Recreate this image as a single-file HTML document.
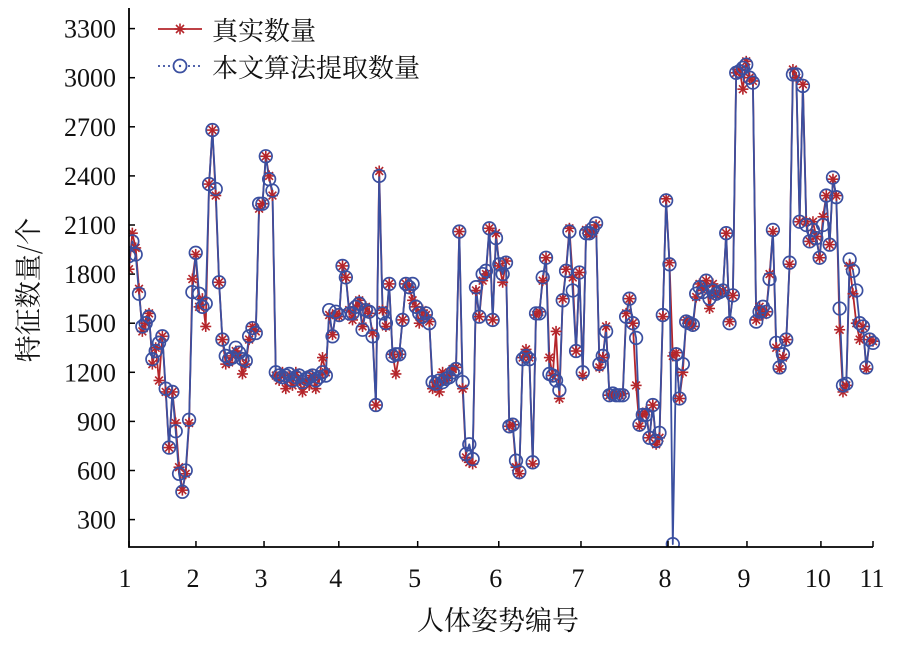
<!DOCTYPE html>
<html><head><meta charset="utf-8"><style>
body{margin:0;background:#fff;}
svg text{font-family:"Liberation Serif","Noto Serif CJK SC",serif;}
</style></head><body>
<svg id="chart" width="901" height="642" viewBox="0 0 901 642" xmlns="http://www.w3.org/2000/svg">
<g id="plot"></g>
<g id="axes"></g>
<g>
  <g>
    <line x1="158" y1="29" x2="202" y2="29" stroke="#b5262b" stroke-width="1.8"/>
    <g stroke="#b5262b" stroke-width="1.6">
      <line x1="174.5" y1="29" x2="185.5" y2="29"/><line x1="180" y1="23.5" x2="180" y2="34.5"/>
      <line x1="176" y1="25" x2="184" y2="33"/><line x1="184" y1="25" x2="176" y2="33"/>
    </g>
    <text x="212" y="40" font-size="26" fill="#111" style="font-family:'Noto Serif CJK SC',serif">真实数量</text>
  </g>
  <g>
    <line x1="158" y1="66" x2="202" y2="66" stroke="#3a4fa0" stroke-width="1.8" stroke-dasharray="2,3"/>
    <circle cx="180" cy="66" r="6.5" fill="#fff" stroke="#3a4fa0" stroke-width="1.8"/>
    <circle cx="180" cy="66" r="1.2" fill="#3a4fa0"/>
    <text x="212" y="77" font-size="26" fill="#111" style="font-family:'Noto Serif CJK SC',serif">本文算法提取数量</text>
  </g>
</g>
<text x="498" y="630" text-anchor="middle" font-size="27" fill="#111" style="font-family:'Noto Serif CJK SC',serif">人体姿势编号</text>
<text transform="translate(38,290) rotate(-90)" text-anchor="middle" font-size="27" fill="#111" style="font-family:'Noto Serif CJK SC',serif">特征数量/个</text>
</svg>
<script>
const trueCounts=[1830,2050,1960,1710,1450,1500,1560,1250,1350,1150,1420,1080,740,1080,890,620,480,580,890,1770,1920,1600,1650,1480,2350,2680,2280,1750,1400,1250,1260,1300,1330,1300,1190,1250,1400,1480,1450,2200,2230,2520,2400,2280,1180,1150,1200,1100,1180,1120,1200,1150,1080,1150,1120,1180,1100,1170,1290,1200,1550,1430,1560,1540,1850,1780,1580,1520,1600,1640,1480,1600,1560,1440,1000,2430,1580,1480,1740,1310,1190,1310,1520,1740,1720,1640,1600,1500,1580,1550,1510,1100,1140,1080,1200,1150,1180,1220,1230,2060,1100,680,650,640,1700,1540,1760,1800,2080,1520,2050,1850,1750,1880,870,880,620,580,1290,1340,1290,640,1550,1570,1760,1900,1290,1180,1450,1040,1650,1830,2080,1780,1330,1810,1180,2070,2040,2050,2100,1230,1290,1480,1060,1060,1070,1060,1070,1560,1650,1500,1120,870,940,960,800,1000,760,800,1540,2260,1870,1300,1320,1040,1200,1520,1500,1480,1660,1740,1700,1760,1590,1740,1670,1680,1700,2050,1510,1670,3030,3050,2930,3100,3000,2980,1520,1600,1550,1570,1800,2060,1350,1220,1290,1400,1860,3050,3000,2120,2960,2120,2000,2120,2030,1900,2150,2280,1980,2380,2280,1460,1080,1120,1850,1680,1500,1400,1480,1220,1400,1390];
const estCounts=[1910,2000,1920,1680,1480,1500,1540,1280,1330,1380,1420,1100,740,1080,840,580,470,600,910,1690,1930,1680,1600,1620,2350,2680,2320,1750,1400,1300,1280,1290,1350,1320,1280,1270,1420,1470,1440,2230,2230,2520,2380,2310,1200,1180,1170,1180,1190,1150,1170,1180,1140,1160,1170,1180,1150,1170,1200,1180,1580,1420,1570,1550,1850,1780,1560,1560,1600,1620,1460,1580,1570,1420,1000,2400,1560,1500,1740,1300,1310,1310,1520,1740,1720,1740,1600,1560,1540,1560,1500,1140,1130,1150,1140,1160,1170,1200,1220,2060,1140,700,760,670,1720,1540,1800,1820,2080,1520,2020,1860,1800,1870,870,880,660,590,1280,1300,1280,650,1560,1560,1780,1900,1190,1180,1150,1090,1640,1820,2060,1700,1330,1810,1200,2050,2050,2080,2110,1250,1300,1450,1060,1070,1060,1060,1060,1540,1650,1500,1410,880,940,940,800,1000,780,830,1550,2250,1860,150,1310,1040,1250,1510,1500,1490,1680,1720,1690,1760,1650,1700,1680,1690,1700,2050,1500,1670,3030,3040,3060,3080,3000,2970,1510,1570,1600,1570,1770,2070,1380,1230,1310,1400,1870,3020,3020,2120,2950,2100,2000,2070,2020,1900,2100,2280,1980,2390,2270,1590,1120,1130,1890,1820,1700,1500,1480,1230,1400,1380];
const poseTickLabels=['1','2','3','4','5','6','7','8','9','10','11'];
const poseTickFraction=[0,0.090,0.1815,0.282,0.388,0.497,0.6075,0.7245,0.8306,0.930,1];

const NS='http://www.w3.org/2000/svg';
const X0=129,X1=873,Y_TOP=8,Y_BOT=547;
const N=trueCounts.length;
function xs(i){return X0+(i/(N-1))*(X1-X0);}
function ys(v){return 28.6+(3300-v)*(519.6-28.6)/3000;}
function mk(tag,attrs,parent){const e=document.createElementNS(NS,tag);for(const k in attrs)e.setAttribute(k,attrs[k]);parent.appendChild(e);return e;}
const plot=document.getElementById('plot'),axes=document.getElementById('axes');
mk('clipPath',{id:'clip'},document.getElementById('chart'));
mk('rect',{x:X0,y:0,width:X1-X0+10,height:Y_BOT},document.getElementById('clip'));
plot.setAttribute('clip-path','url(#clip)');
function lineOf(arr,color,name){
  const p=mk('polyline',{points:arr.map((v,i)=>xs(i).toFixed(1)+','+ys(v).toFixed(1)).join(' '),fill:'none',stroke:color,'stroke-width':1.8,'stroke-linejoin':'round'},plot);
  
  
}
lineOf(trueCounts,'#b5262b','true-count-line');
lineOf(estCounts,'#3a4fa0','estimated-count-line');
trueCounts.forEach((v,i)=>{
  const cx=xs(i),cy=ys(v),r=5.5;
  const g=mk('g',{stroke:'#b5262b','stroke-width':1.6},plot);
  
  
  for(let a=0;a<4;a++){const t=a*Math.PI/4;mk('line',{x1:cx-r*Math.cos(t),y1:cy-r*Math.sin(t),x2:cx+r*Math.cos(t),y2:cy+r*Math.sin(t)},g);}
});
estCounts.forEach((v,i)=>{
  const c=mk('circle',{cx:xs(i),cy:ys(v),r:6.3,fill:'none',stroke:'#3a4fa0','stroke-width':1.7},plot);
  
  
});
const ax=mk('path',{d:`M${X0},${Y_TOP} L${X0},${Y_BOT} L${X1},${Y_BOT}`,fill:'none',stroke:'#000','stroke-width':1.8},axes);


const yTicks=[300,600,900,1200,1500,1800,2100,2400,2700,3000,3300];
yTicks.forEach(v=>{
  mk('line',{x1:X0,y1:ys(v),x2:X0+6,y2:ys(v),stroke:'#000','stroke-width':1.5},axes);
  const t=mk('text',{x:116,y:ys(v)+9,'text-anchor':'end','font-size':26,fill:'#111'},axes);
  t.textContent=v;
  
  
});
poseTickFraction.forEach((f,k)=>{
  const x=xs(f*(N-1));
  mk('line',{x1:x,y1:Y_BOT,x2:x,y2:Y_BOT-6,stroke:'#000','stroke-width':1.5},axes);
  const t=mk('text',{x:k===0?125:(k===10?872:x-3),y:587,'text-anchor':'middle','font-size':26,fill:'#111'},axes);
  t.textContent=poseTickLabels[k];
  
  
});
</script>
</body></html>
